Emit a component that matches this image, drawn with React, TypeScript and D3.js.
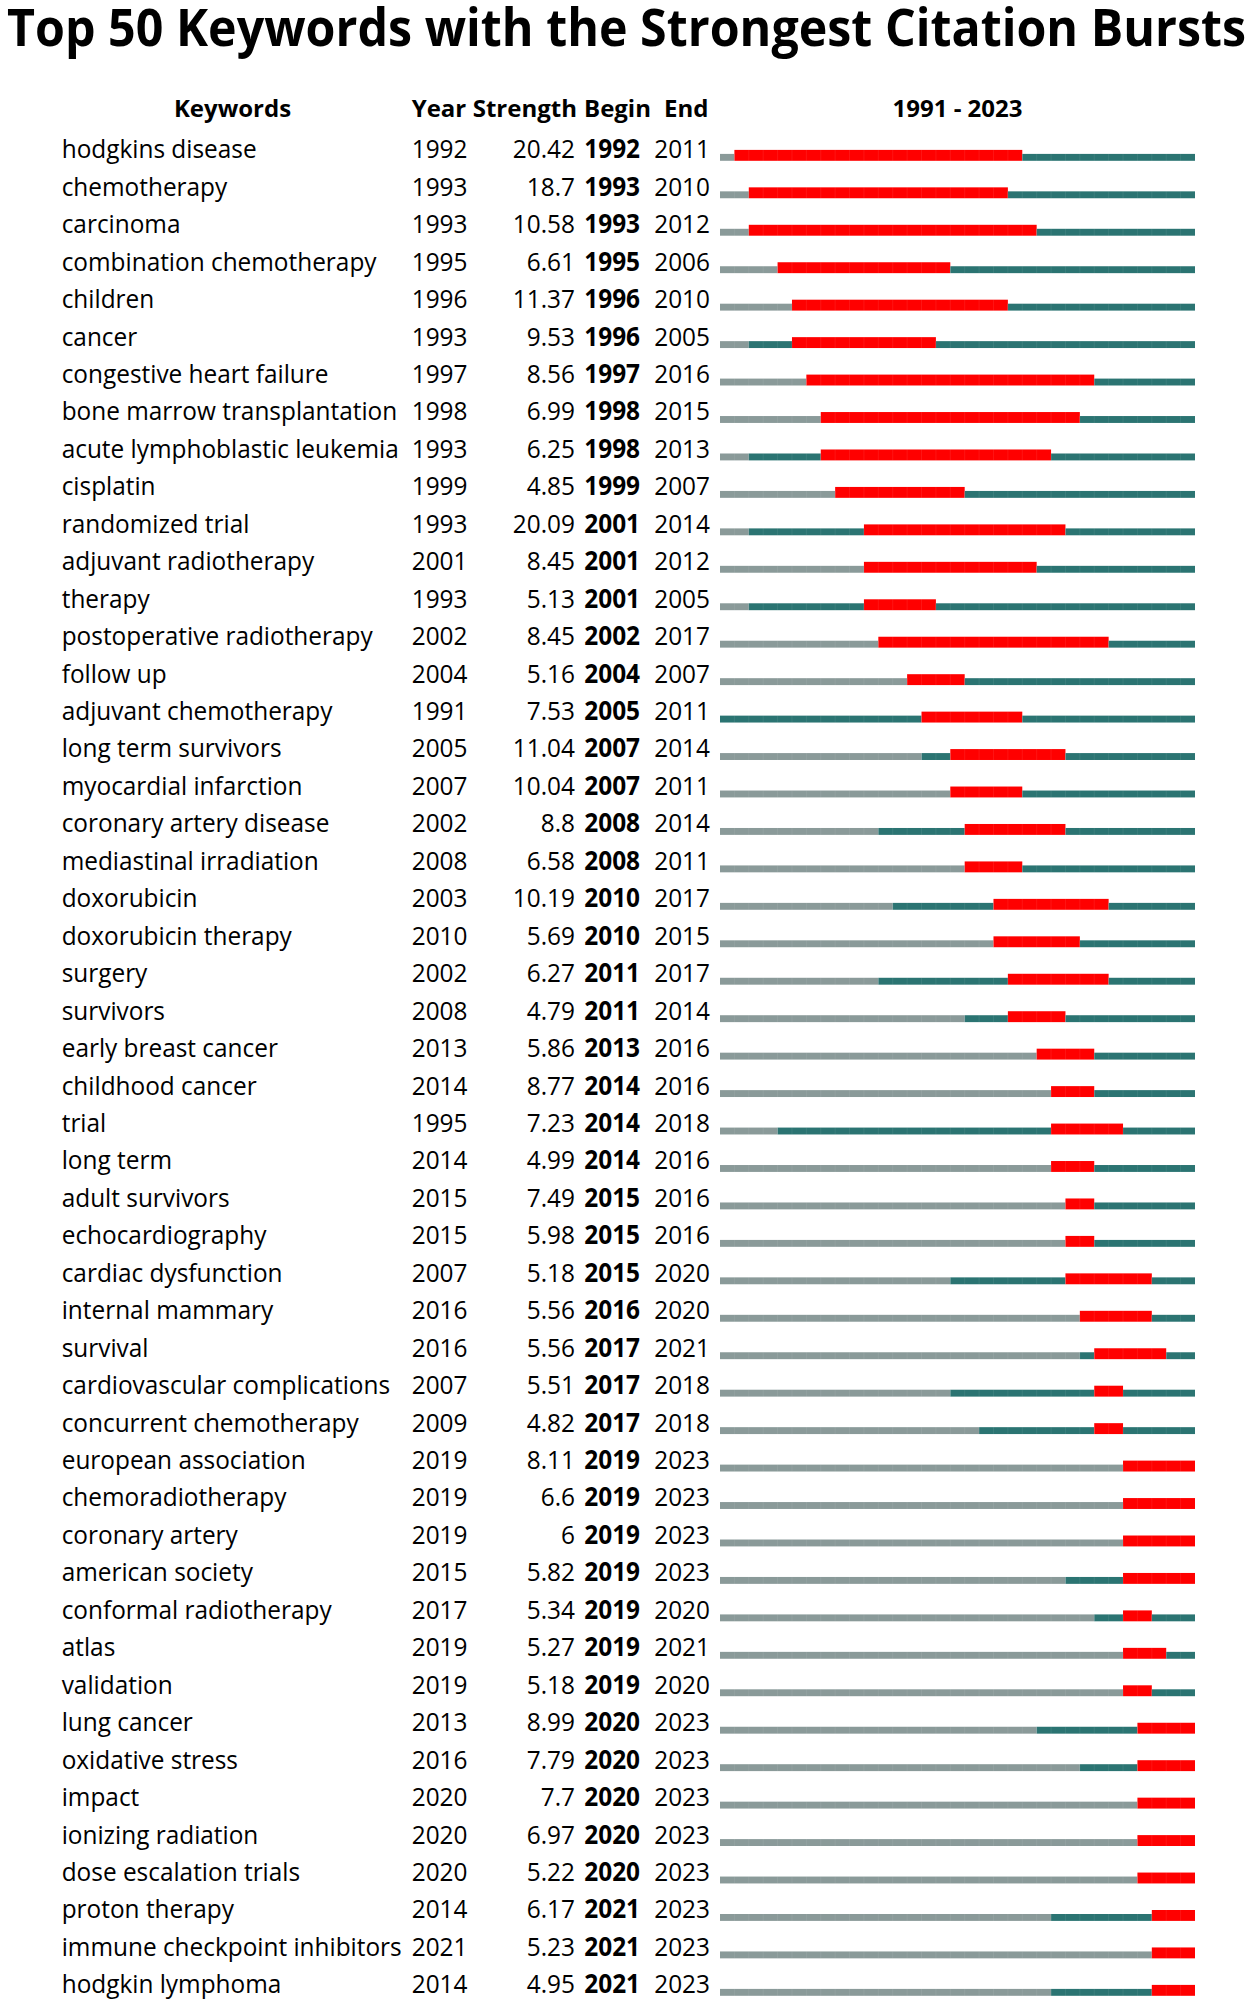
import React from "react";
import * as d3 from "d3";

const keywords = [
  "hodgkins disease", "chemotherapy", "carcinoma", "combination chemotherapy", "children",
  "cancer", "congestive heart failure", "bone marrow transplantation", "acute lymphoblastic leukemia", "cisplatin",
  "randomized trial", "adjuvant radiotherapy", "therapy", "postoperative radiotherapy", "follow up",
  "adjuvant chemotherapy", "long term survivors", "myocardial infarction", "coronary artery disease", "mediastinal irradiation",
  "doxorubicin", "doxorubicin therapy", "surgery", "survivors", "early breast cancer",
  "childhood cancer", "trial", "long term", "adult survivors", "echocardiography",
  "cardiac dysfunction", "internal mammary", "survival", "cardiovascular complications", "concurrent chemotherapy",
  "european association", "chemoradiotherapy", "coronary artery", "american society", "conformal radiotherapy",
  "atlas", "validation", "lung cancer", "oxidative stress", "impact",
  "ionizing radiation", "dose escalation trials", "proton therapy", "immune checkpoint inhibitors", "hodgkin lymphoma",
];

const years = [
  1992, 1993, 1993, 1995, 1996, 1993, 1997, 1998, 1993, 1999,
  1993, 2001, 1993, 2002, 2004, 1991, 2005, 2007, 2002, 2008,
  2003, 2010, 2002, 2008, 2013, 2014, 1995, 2014, 2015, 2015,
  2007, 2016, 2016, 2007, 2009, 2019, 2019, 2019, 2015, 2017,
  2019, 2019, 2013, 2016, 2020, 2020, 2020, 2014, 2021, 2014,
];

const strengths = [
  20.42, 18.7, 10.58, 6.61, 11.37, 9.53, 8.56, 6.99, 6.25, 4.85,
  20.09, 8.45, 5.13, 8.45, 5.16, 7.53, 11.04, 10.04, 8.8, 6.58,
  10.19, 5.69, 6.27, 4.79, 5.86, 8.77, 7.23, 4.99, 7.49, 5.98,
  5.18, 5.56, 5.56, 5.51, 4.82, 8.11, 6.6, 6, 5.82, 5.34,
  5.27, 5.18, 8.99, 7.79, 7.7, 6.97, 5.22, 6.17, 5.23, 4.95,
];

const begins = [
  1992, 1993, 1993, 1995, 1996, 1996, 1997, 1998, 1998, 1999,
  2001, 2001, 2001, 2002, 2004, 2005, 2007, 2007, 2008, 2008,
  2010, 2010, 2011, 2011, 2013, 2014, 2014, 2014, 2015, 2015,
  2015, 2016, 2017, 2017, 2017, 2019, 2019, 2019, 2019, 2019,
  2019, 2019, 2020, 2020, 2020, 2020, 2020, 2021, 2021, 2021,
];

const ends = [
  2011, 2010, 2012, 2006, 2010, 2005, 2016, 2015, 2013, 2007,
  2014, 2012, 2005, 2017, 2007, 2011, 2014, 2011, 2014, 2011,
  2017, 2015, 2017, 2014, 2016, 2016, 2018, 2016, 2016, 2016,
  2020, 2020, 2021, 2018, 2018, 2023, 2023, 2023, 2023, 2020,
  2021, 2020, 2023, 2023, 2023, 2023, 2023, 2023, 2023, 2023,
];

const startYear = 1991;
const endYear = 2023;
const timeline = d3.range(startYear, endYear + 1);

const COLORS = { gray: "#8a9a99", teal: "#2b7472", red: "#ff0000" };
const FONT = "'Open Sans', 'Noto Sans', sans-serif";
const SY = 1.08;

type Seg = { kind: "gray" | "teal" | "red"; from: number; to: number };

function segmentsFor(i: number): Seg[] {
  const segs: Seg[] = [];
  timeline.forEach((yr) => {
    const kind: Seg["kind"] =
      yr >= begins[i] && yr <= ends[i] ? "red" : yr < years[i] ? "gray" : "teal";
    const last = segs[segs.length - 1];
    if (last && last.kind === kind) last.to = yr + 1;
    else segs.push({ kind, from: yr, to: yr + 1 });
  });
  return segs;
}

export default function App() {
  const W = 1255;
  const H = 2006;
  const x = d3.scaleLinear().domain([startYear, endYear + 1]).range([720, 1195]);
  const y = d3.scaleLinear().domain([0, keywords.length - 1]).range([158.3, 1993.3]);

  return (
    <svg
      width={W}
      height={H}
      style={{ position: "absolute", left: 0, top: 0, background: "#fff" }}
      fontFamily={FONT}
    >
      <rect width={W} height={H} fill="#fff" />
      <text
        x={7}
        y={46}
        fontSize={52}
        fontWeight="bold"
        textLength={1239}
        lengthAdjust="spacingAndGlyphs"
        fill="#000"
      >
        Top 50 Keywords with the Strongest Citation Bursts
      </text>

      <g fontSize={24} fontWeight="bold" fill="#000">
        <text x={232.5} y={116.7} textAnchor="middle">Keywords</text>
        <text x={411.7} y={116.7}>Year</text>
        <text x={472.7} y={116.7}>Strength</text>
        <text x={584} y={116.7}>Begin</text>
        <text x={664} y={116.7}>End</text>
        <text x={(x(startYear) + x(endYear + 1)) / 2} y={116.7} textAnchor="middle">
          {`${startYear} - ${endYear}`}
        </text>
      </g>

      {keywords.map((kw, i) => {
        const by = y(i);
        return (
          <g key={kw + i}>
            <g transform={`translate(0,${by}) scale(1,${SY})`} fontSize={24.4} fill="#000">
              <text x={61.7} y={0}>{kw}</text>
              <text x={411.7} y={0}>{years[i]}</text>
              <text x={575} y={0} textAnchor="end">{String(strengths[i])}</text>
              <text x={584.3} y={0} fontWeight="bold">{begins[i]}</text>
              <text x={710} y={0} textAnchor="end">{ends[i]}</text>
            </g>
            {segmentsFor(i).map((s) => {
              const top = s.kind === "red" ? by - 8.4 : by - 4.4;
              return (
                <rect
                  key={s.from}
                  x={x(s.from)}
                  y={top}
                  width={x(s.to) - x(s.from)}
                  height={by + 2.5 - top}
                  fill={COLORS[s.kind]}
                />
              );
            })}
            {timeline.slice(1).map((yr) => {
              const red = yr > begins[i] && yr <= ends[i];
              const top = red ? by - 8.4 : by - 4.4;
              return (
                <line
                  key={"s" + yr}
                  x1={x(yr)}
                  x2={x(yr)}
                  y1={top}
                  y2={by + 2.5}
                  stroke="#ffffff"
                  strokeOpacity={0.1}
                  strokeWidth={0.8}
                />
              );
            })}
          </g>
        );
      })}
    </svg>
  );
}
